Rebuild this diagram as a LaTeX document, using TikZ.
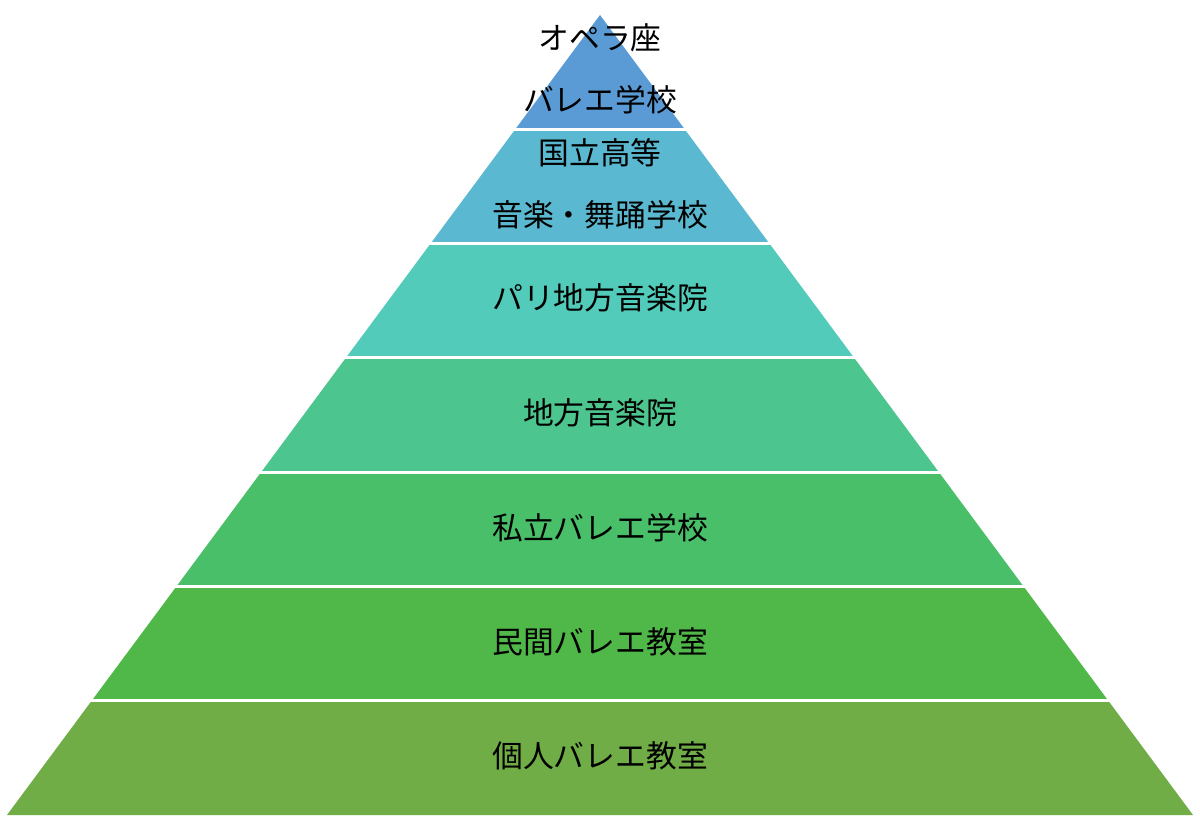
\documentclass[tikz,border=0pt]{standalone}
\usepackage{fontspec}
\newfontfamily\jpfont{Noto Sans CJK JP}
\definecolor{cA}{HTML}{5B9BD5}
\definecolor{cB}{HTML}{5AB9D0}
\definecolor{cC}{HTML}{52CBBA}
\definecolor{cD}{HTML}{4DC58E}
\definecolor{cE}{HTML}{48BF68}
\definecolor{cF}{HTML}{50B848}
\definecolor{cG}{HTML}{70AD47}
\tikzset{
  lbl/.style={font=\jpfont\fontsize{30.8}{36}\selectfont, text=black, inner sep=0pt, anchor=center},
  sep/.style={draw=white, line width=3pt}
}
\begin{document}
\begin{tikzpicture}[x=1pt,y=-1pt]
\useasboundingbox (0,0) rectangle (1200,818);
\foreach \k/\c in {0/cA,1/cB,2/cC,3/cD,4/cE,5/cF,6/cG}{
  \pgfmathsetmacro{\yt}{15+\k*800/7}
  \pgfmathsetmacro{\yb}{15+(\k+1)*800/7}
  \pgfmathsetmacro{\ht}{(\yt-15)*0.74125}
  \pgfmathsetmacro{\hb}{(\yb-15)*0.74125}
  \fill[\c] (600-\ht,\yt) -- (600+\ht,\yt) -- (600+\hb,\yb) -- (600-\hb,\yb) -- cycle;
}
\foreach \k in {1,...,6}{
  \pgfmathsetmacro{\yy}{15+\k*800/7}
  \pgfmathsetmacro{\hh}{(\yy-15)*0.74125+3}
  \draw[sep] (600-\hh,\yy) -- (600+\hh,\yy);
}
\node[lbl] (t1) at (600,38) {オペラ座};
\node[lbl] (t2) at (600,100) {バレエ学校};
\node[lbl] (t3) at (600,153) {国立高等};
\node[lbl] (t4) at (600,215) {音楽・舞踊学校};
\node[lbl] (t5) at (600,298) {パリ地方音楽院};
\node[lbl] (t6) at (600,413) {地方音楽院};
\node[lbl] (t7) at (600,528) {私立バレエ学校};
\node[lbl] (t8) at (600,642) {民間バレエ教室};
\node[lbl] (t9) at (600,756) {個人バレエ教室};
\end{tikzpicture}
\end{document}
